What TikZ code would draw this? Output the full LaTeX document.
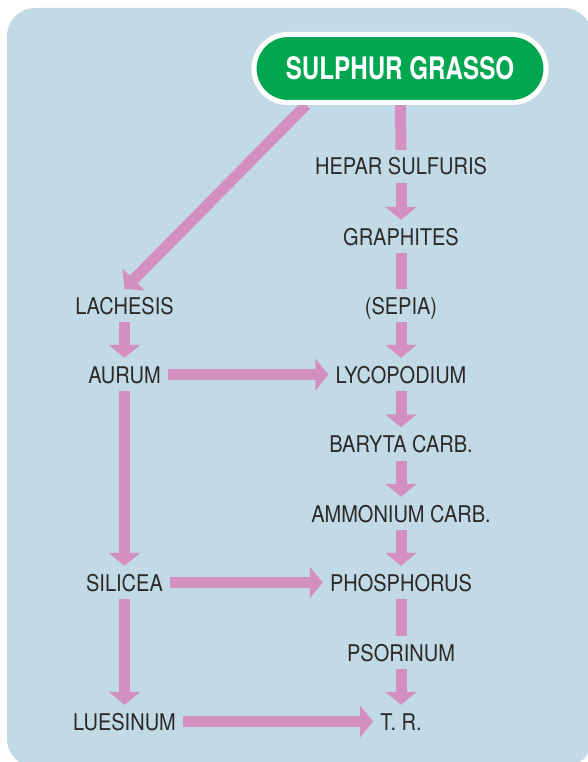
\documentclass[tikz,border=0pt]{standalone}
\usepackage{fontspec}
\setmainfont{TeX Gyre Heros}[FakeStretch=0.87]
\newfontfamily\titlefont{TeX Gyre Heros}[FakeStretch=0.78]
\usetikzlibrary{arrows.meta}
\definecolor{panel}{HTML}{C2DAE5}
\definecolor{flowpink}{HTML}{D390BF}
\definecolor{boxgreen}{HTML}{00A650}
\definecolor{ink}{HTML}{2A2928}
\pgfdeclarelayer{bg}
\pgfdeclarelayer{links}
\pgfsetlayers{bg,links,main}
\tikzset{
  remedy/.style={anchor=base, text=ink, font=\fontsize{23}{27}\selectfont,
    text height=17pt, text depth=0pt, inner ysep=8pt, inner xsep=7pt},
  titlebox/.style={draw=white, line width=5pt, fill=boxgreen, text=white,
    rounded corners=34pt, minimum width=292pt, minimum height=68pt,
    font=\titlefont\bfseries\fontsize{31}{35}\selectfont},
  flow/.style={draw=flowpink, line width=11pt},
  flowarr/.style={flow, -{Triangle[width=31pt,length=13pt]}}
}
\begin{document}
\begin{tikzpicture}[x=1pt,y=-1pt]
\useasboundingbox (0,0) rectangle (587,762);
\begin{pgfonlayer}{bg}
  \fill[panel, rounded corners=28pt] (7,8) rectangle (592,767);
\end{pgfonlayer}

\node[titlebox] (sg) at (400,68.5) {SULPHUR GRASSO};

\node[remedy] (hepar) at (401,175) {HEPAR SULFURIS};
\node[remedy] (graph) at (401,245) {GRAPHITES};
\node[remedy] (sepia) at (401,314) {(SEPIA)};
\node[remedy] (lach)  at (124.5,314) {LACHESIS};
\node[remedy] (aurum) at (124.5,383) {AURUM};
\node[remedy] (lyco)  at (401,383) {LYCOPODIUM};
\node[remedy] (baryta) at (401,452.5) {BARYTA CARB.};
\node[remedy] (ammon) at (401,522) {AMMONIUM CARB.};
\node[remedy] (silic) at (124.5,591) {SILICEA};
\node[remedy] (phos)  at (401,591) {PHOSPHORUS};
\node[remedy] (psor)  at (401,661) {PSORINUM};
\node[remedy] (lues)  at (124.5,730) {LUESINUM};
\node[remedy] (tr)    at (401,730) {T. R.};

\begin{pgfonlayer}{links}
  \draw[flow] (sg.center) -- (hepar.north);
  \draw[flowarr] ([xshift=-94pt]sg.south) -- (lach.north);
  \draw[flowarr] (hepar.south) -- (graph.north);
  \draw[flow] (graph.south) -- (sepia.north);
  \draw[flowarr] (sepia.south) -- (lyco.north);
  \draw[flowarr] (lyco.south) -- (baryta.north);
  \draw[flowarr] (baryta.south) -- (ammon.north);
  \draw[flowarr] (ammon.south) -- (phos.north);
  \draw[flow] (phos.south) -- (psor.north);
  \draw[flowarr] (psor.south) -- (tr.north);
  \draw[flowarr] (lach.south) -- (aurum.north);
  \draw[flowarr] (aurum.south) -- (silic.north);
  \draw[flowarr] (silic.south) -- (lues.north);
  \draw[flowarr] (aurum.east) -- (lyco.west);
  \draw[flowarr] (silic.east) -- (phos.west);
  \draw[flowarr] (lues.east) -- (tr.west);
\end{pgfonlayer}
\end{tikzpicture}
\end{document}
